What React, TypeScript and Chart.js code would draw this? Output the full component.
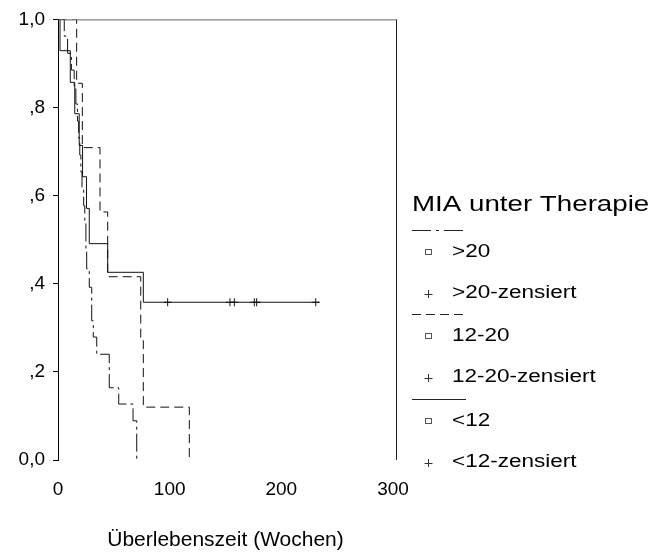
import React, { useEffect, useRef } from 'react';
import { Chart, registerables } from 'chart.js';

Chart.register(...registerables);

// ---- Data ----
const legendTitle = 'MIA unter Therapie';
const xAxisTitle = 'Überlebenszeit (Wochen)';
const groupNames = ['>20', '12-20', '<12'];
const censoredNames = ['>20-zensiert', '12-20-zensiert', '<12-zensiert'];
const yTickLabels = ['0,0', ',2', ',4', ',6', ',8', '1,0'];
const xTickValues = [0, 100, 200, 300];

// >20 (dash-dot)
const timesHigh = [0, 5.6, 8.6, 12, 14.5, 16, 17.5, 18.5, 19.5, 20.5, 21.5, 23, 24, 25, 25.7, 28.0, 30.2, 31.6, 34.7, 45.9, 54.4, 67.2, 70.5];
const survHigh = [1, 0.962, 0.923, 0.885, 0.846, 0.808, 0.769, 0.731, 0.692, 0.654, 0.615, 0.577, 0.538, 0.477, 0.434, 0.392, 0.316, 0.279, 0.24, 0.164, 0.127, 0.089, 0];

// 12-20 (dashed)
const timesMid = [0, 16.7, 21.8, 37.6, 44.5, 74.1, 76.4, 117.6];
const survMid = [1, 0.855, 0.709, 0.563, 0.416, 0.271, 0.12, 0];

// <12 (solid)
const timesLow = [0, 1.8, 11, 15, 19, 22, 25.5, 28.0, 44.5, 76.4, 234];
const survLow = [1, 0.929, 0.857, 0.786, 0.714, 0.643, 0.571, 0.491, 0.426, 0.358, 0.358];

// <12 censored observations
const censorTimesLow = [98.2, 154, 157.9, 175.8, 177.9, 230.8];
const censorSurvLow = [0.358, 0.358, 0.358, 0.358, 0.358, 0.358];

// ---- styles ----
const FONT = 'Arial, "Liberation Sans", sans-serif';
const LINE_COLOR = '#111';
const dashes = [[18, 4, 3, 4], [9, 5], []];

const toPoints = (xs: number[], ys: number[]) => xs.map((x, i) => ({ x, y: ys[i] }));

function stretchedText(ctx: CanvasRenderingContext2D, text: string, x: number, y: number, size: number, sx: number) {
  ctx.save();
  ctx.translate(x, y);
  ctx.scale(sx, 1);
  ctx.font = `${size}px ${FONT}`;
  ctx.fillStyle = '#000';
  ctx.textBaseline = 'middle';
  ctx.textAlign = 'left';
  ctx.fillText(text, 0, 0);
  ctx.restore();
}

const framePlugin = {
  id: 'kmFrame',
  afterDatasetsDraw(chart: any) {
    const { ctx, chartArea } = chart;
    ctx.save();
    ctx.lineWidth = 1;
    ctx.strokeStyle = '#666';
    ctx.beginPath();
    ctx.moveTo(chartArea.left, chartArea.top + 0.5);
    ctx.lineTo(chartArea.right + 3, chartArea.top + 0.5);
    ctx.stroke();
    ctx.strokeStyle = '#222';
    ctx.beginPath();
    ctx.moveTo(chartArea.right + 3.5, chartArea.top);
    ctx.lineTo(chartArea.right + 3.5, chartArea.bottom);
    ctx.stroke();
    ctx.restore();
  },
};

const legendPlugin = {
  id: 'kmLegend',
  afterDraw(chart: any) {
    const ctx: CanvasRenderingContext2D = chart.ctx;
    const x0 = 412;
    stretchedText(ctx, legendTitle, x0, 205, 22, 1.26);
    const groupTops = [230, 314, 399];
    groupNames.forEach((name, i) => {
      const y = groupTops[i];
      ctx.save();
      ctx.strokeStyle = '#222';
      ctx.lineWidth = 1;
      ctx.setLineDash(i === 0 ? [19, 5, 3, 5] : dashes[i]);
      ctx.beginPath();
      ctx.moveTo(x0, y + 0.5);
      ctx.lineTo(x0 + 54, y + 0.5);
      ctx.stroke();
      ctx.setLineDash([]);
      // square marker
      ctx.strokeStyle = '#555';
      ctx.strokeRect(425.5, y + 19.5, 6, 5);
      // cross marker
      ctx.strokeStyle = '#333';
      ctx.beginPath();
      ctx.moveTo(428.5, y + 60);
      ctx.lineTo(428.5, y + 68);
      ctx.moveTo(424.5, y + 64.5);
      ctx.lineTo(432.5, y + 64.5);
      ctx.stroke();
      ctx.restore();
      stretchedText(ctx, name, 452, y + 22, 18, 1.25);
      stretchedText(ctx, censoredNames[i], 452, y + 63, 18, 1.25);
    });
  },
};

export default function App() {
  const canvasRef = useRef<HTMLCanvasElement | null>(null);

  useEffect(() => {
    const canvas = canvasRef.current;
    if (!canvas) return;
    const chart = new Chart(canvas, {
      type: 'line',
      data: {
        datasets: [
          {
            label: groupNames[0],
            data: toPoints(timesHigh, survHigh),
            stepped: true,
            borderColor: LINE_COLOR,
            borderWidth: 1,
            borderDash: dashes[0],
            pointRadius: 0,
            fill: false,
          },
          {
            label: groupNames[1],
            data: toPoints(timesMid, survMid),
            stepped: true,
            borderColor: LINE_COLOR,
            borderWidth: 1,
            borderDash: dashes[1],
            pointRadius: 0,
            fill: false,
          },
          {
            label: groupNames[2],
            data: toPoints(timesLow, survLow),
            stepped: true,
            borderColor: LINE_COLOR,
            borderWidth: 1,
            pointRadius: 0,
            fill: false,
          },
          {
            type: 'scatter',
            label: censoredNames[2],
            data: toPoints(censorTimesLow, censorSurvLow),
            pointStyle: 'cross',
            pointRadius: 4,
            borderColor: LINE_COLOR,
            borderWidth: 1,
            showLine: false,
          } as any,
        ],
      },
      options: {
        animation: false,
        responsive: false,
        maintainAspectRatio: false,
        layout: { padding: { left: 0, right: 262, top: 17, bottom: 0 } },
        plugins: {
          legend: { display: false },
          tooltip: { enabled: false },
          title: { display: false },
        },
        scales: {
          x: {
            type: 'linear',
            min: 0,
            max: 300,
            afterBuildTicks: (scale: any) => {
              scale.ticks = xTickValues.map((v) => ({ value: v }));
            },
            ticks: {
              font: { family: FONT, size: 19 },
              color: '#000',
              padding: 18,
              maxRotation: 0,
            },
            grid: { display: false, drawTicks: false },
            border: { display: false },
            title: {
              display: true,
              text: xAxisTitle,
              color: '#000',
              font: { family: FONT, size: 21 },
              padding: { top: 0, bottom: 3 },
            },
            afterFit: (scale: any) => {
              scale.height = 96;
            },
          },
          y: {
            type: 'linear',
            min: 0,
            max: 1,
            ticks: {
              stepSize: 0.2,
              font: { family: FONT, size: 19 },
              color: '#000',
              padding: 8,
              callback: (v: any) => yTickLabels[Math.round(Number(v) / 0.2)] ?? '',
            },
            grid: { drawOnChartArea: false, tickLength: 5, color: '#000' },
            border: { display: true, color: '#000', width: 1 },
            afterFit: (scale: any) => {
              scale.width = 58;
            },
          },
        },
      },
      plugins: [framePlugin, legendPlugin],
    });
    return () => chart.destroy();
  }, []);

  return (
    <div style={{ position: 'absolute', left: 0, top: 0, width: 655, height: 556, background: '#fff' }}>
      <canvas ref={canvasRef} width={655} height={556} style={{ display: 'block', width: 655, height: 556 }} />
    </div>
  );
}
